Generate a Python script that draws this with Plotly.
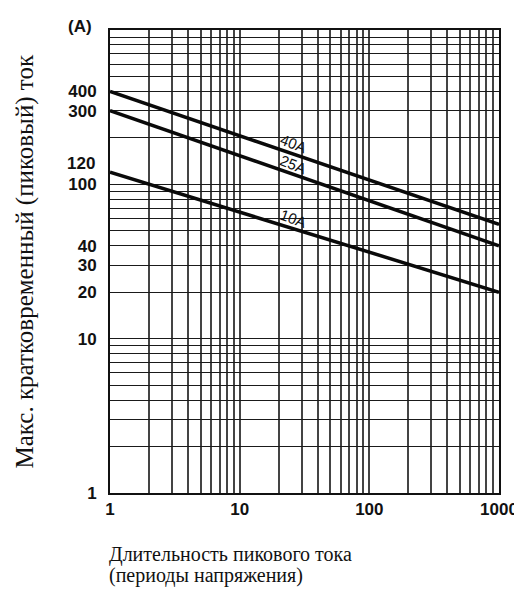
import numpy as np
import plotly.graph_objects as go

# ---- data ----
cycles = [1, 1000]                     # duration of peak current (voltage periods)
surge_10A = [120, 20]                  # max short-time (peak) current, A
surge_25A = [300, 40]
surge_40A = [400, 55]
series_names = ["10A", "25A", "40A"]

x_tick_vals = [1, 10, 100, 1000]
x_tick_text = ["1", "10", "100", "1000"]
y_tick_vals = [1, 10, 20, 30, 40, 100, 300, 400]
y_tick_text = ["1", "10", "20", "30", "40", "100", "300", "400"]
y_extra_tick = 120                      # labelled value sitting right above 100

# grid lines (log paper: 1..9 in each decade)
grid_vals = [m * 10 ** d for d in range(3) for m in range(1, 10)] + [1000]
x_grid_text = [str(v) if v in x_tick_vals else "" for v in grid_vals]

W, H = 522, 596
ML, MR, MT, MB = 102, 25, 22, 111
X_RANGE = [0, 3]
Y_RANGE = [0, 3]

tick_font = dict(family="Liberation Sans, Arial, sans-serif", size=17, color="#111", weight="bold")
title_font = dict(family="Liberation Serif, Times New Roman, serif", size=20, color="#111")

fig = go.Figure()

series = [surge_10A, surge_25A, surge_40A]
px_per_x = (W - ML - MR) / (X_RANGE[1] - X_RANGE[0])
px_per_y = (H - MT - MB) / (Y_RANGE[1] - Y_RANGE[0])

for name, vals in zip(series_names, series):
    fig.add_trace(go.Scatter(
        x=cycles, y=vals, mode="lines", name=name, showlegend=False,
        line=dict(color="#0a0a0a", width=3.5),
    ))
    lx0, lx1 = np.log10(cycles[0]), np.log10(cycles[1])
    ly0, ly1 = np.log10(vals[0]), np.log10(vals[1])
    xl = np.log10(27)
    yl = ly0 + (xl - lx0) / (lx1 - lx0) * (ly1 - ly0)
    ang = np.degrees(np.arctan2(-(ly1 - ly0) * px_per_y, (lx1 - lx0) * px_per_x))
    fig.add_annotation(
        x=xl, y=yl, xref="x", yref="y", text=name, showarrow=False,
        textangle=ang + 3, yshift=11, xshift=-2,
        font=dict(family="Liberation Sans, Arial, sans-serif", size=15, color="#111"),
    )

# invisible carrier trace so the label axis is drawn
fig.add_trace(go.Scatter(x=cycles, y=surge_10A, yaxis="y2", mode="lines",
                         line=dict(width=0), hoverinfo="skip", showlegend=False,
                         opacity=0))

fig.add_annotation(
    x=0, y=np.log10(y_extra_tick), xref="paper", yref="y", text=str(y_extra_tick),
    showarrow=False, xanchor="right", yanchor="middle", xshift=-13, yshift=9,
    font=tick_font,
)
fig.add_annotation(
    x=0, y=1, xref="paper", yref="paper", text="(A)", showarrow=False,
    xanchor="right", yanchor="middle", xshift=-16, yshift=4, font=tick_font,
)
fig.add_annotation(
    x=0, y=0.5, xref="paper", yref="paper",
    text="Макс. кратковременный (пиковый) ток", showarrow=False,
    textangle=-90, xanchor="center", yanchor="middle", xshift=-86,
    font=dict(family=title_font["family"], size=25, color="#111"),
)
fig.add_annotation(
    x=0, y=0, xref="paper", yref="paper",
    text="Длительность пикового тока", showarrow=False,
    xanchor="left", yanchor="middle", align="left", xshift=-3, yshift=-61,
    font=title_font,
)
fig.add_annotation(
    x=0, y=0, xref="paper", yref="paper",
    text="(периоды напряжения)", showarrow=False,
    xanchor="left", yanchor="middle", align="left", xshift=-3, yshift=-82,
    font=title_font,
)

fig.update_layout(
    width=W, height=H,
    margin=dict(l=ML, r=MR, t=MT, b=MB, pad=0),
    paper_bgcolor="white", plot_bgcolor="white",
    showlegend=False,
    xaxis=dict(
        type="log", range=X_RANGE,
        tickmode="array", tickvals=grid_vals, ticktext=x_grid_text,
        showgrid=True, gridcolor="#444444", gridwidth=1.6,
        showline=True, linecolor="#111", linewidth=2, mirror=True,
        ticks="", ticklabelstandoff=0, tickfont=tick_font, zeroline=False,
    ),
    yaxis=dict(
        type="log", range=Y_RANGE,
        tickmode="array", tickvals=grid_vals, showticklabels=False,
        showgrid=True, gridcolor="#1a1a1a", gridwidth=1.4,
        showline=True, linecolor="#111", linewidth=2, mirror=True,
        ticks="", zeroline=False,
    ),
    yaxis2=dict(
        type="log", range=Y_RANGE, overlaying="y", anchor="x", side="left",
        tickmode="array", tickvals=y_tick_vals, ticktext=y_tick_text,
        showgrid=False, showline=False, zeroline=False,
        ticks="outside", ticklen=7, tickcolor="rgba(0,0,0,0)",
        ticklabelstandoff=2, tickfont=tick_font,
    ),
)

fig.write_html("out.html")
